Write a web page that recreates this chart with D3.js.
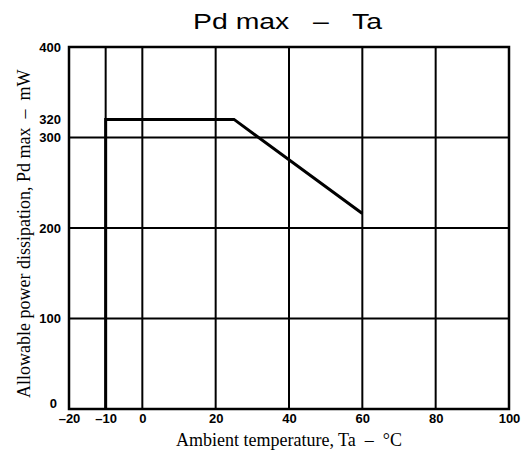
<!DOCTYPE html>
<html>
<head>
<meta charset="utf-8">
<script src="https://cdn.jsdelivr.net/npm/d3@7"></script>
<style>
  body { margin: 0; background: #fff; }
  svg { display: block; }
</style>
</head>
<body>
<div id="chart"></div>
<script>
// derating curve, Pd max (mW) vs ambient temperature (degC)
var curveTa = [-10, -10, 25, 60];
var curvePd = [0, 320, 320, 216];

var xTicks = [-20, -10, 0, 20, 40, 60, 80, 100];
var yTicks = [0, 100, 200, 300, 320, 400];
var xGrid = [-10, 0, 20, 40, 60, 80];
var yGrid = [100, 200, 300];

var W = 521, H = 452;
var margin = {top: 47, right: 12, bottom: 43, left: 69},
    width = W - margin.left - margin.right,
    height = H - margin.top - margin.bottom;

var x = d3.scaleLinear().domain([-20, 100]).range([0, width]);
var y = d3.scaleLinear().domain([0, 400]).range([height, 0]);

var svg = d3.select("#chart").append("svg")
    .attr("width", W)
    .attr("height", H);

// title (the scan is stretched sideways)
svg.append("text")
    .attr("x", 193)
    .attr("y", 29)
    .attr("textLength", 189)
    .attr("lengthAdjust", "spacingAndGlyphs")
    .style("font-family", "Liberation Sans, Arial, sans-serif")
    .style("font-size", "22px")
    .attr("xml:space", "preserve")
    .text("Pd max   \u2013   Ta");

var g = svg.append("g")
    .attr("transform", "translate(" + margin.left + "," + margin.top + ")");

// grid lines
g.selectAll(".vgrid")
    .data(xGrid)
  .enter().append("line")
    .attr("class", "vgrid")
    .attr("x1", function(d) { return x(d); })
    .attr("x2", function(d) { return x(d); })
    .attr("y1", 0)
    .attr("y2", height)
    .attr("stroke", "#000")
    .attr("stroke-width", 2);

g.selectAll(".hgrid")
    .data(yGrid)
  .enter().append("line")
    .attr("class", "hgrid")
    .attr("x1", 0)
    .attr("x2", width)
    .attr("y1", function(d) { return y(d); })
    .attr("y2", function(d) { return y(d); })
    .attr("stroke", "#000")
    .attr("stroke-width", 2);

// frame
g.append("rect")
    .attr("x", 0)
    .attr("y", 0)
    .attr("width", width)
    .attr("height", height)
    .attr("fill", "none")
    .attr("stroke", "#000")
    .attr("stroke-width", 2.5);

// axes (labels only)
var xAxis = d3.axisBottom(x)
    .tickValues(xTicks)
    .tickSize(0)
    .tickPadding(5)
    .tickFormat(function(d) { return d < 0 ? "\u2013" + Math.abs(d) : d; });

var yAxis = d3.axisLeft(y)
    .tickValues(yTicks)
    .tickSize(0)
    .tickPadding(8);

var xg = g.append("g")
    .attr("transform", "translate(0," + height + ")")
    .call(xAxis);
var yg = g.append("g").call(yAxis);

[xg, yg].forEach(function(a) {
  a.select(".domain").remove();
  a.selectAll("text")
      .attr("fill", "#000")
      .style("font-family", "Liberation Sans, Arial, sans-serif")
      .style("font-weight", "bold")
      .style("font-size", "13px");
});

// the "0" sits a little above the bottom edge in the original
yg.selectAll(".tick")
    .filter(function(d) { return d === 0; })
    .select("text")
    .attr("dy", "-0.15em")
    .attr("x", -12);

// curve
var pts = curveTa.map(function(t, i) { return [t, curvePd[i]]; });
var line = d3.line()
    .x(function(d) { return x(d[0]); })
    .y(function(d) { return y(d[1]); });

g.append("path")
    .datum(pts)
    .attr("d", line)
    .attr("fill", "none")
    .attr("stroke", "#000")
    .attr("stroke-width", 3)
    .attr("stroke-linejoin", "miter");

// axis titles
svg.append("text")
    .attr("x", 289)
    .attr("y", 446)
    .attr("text-anchor", "middle")
    .style("font-family", "Liberation Serif, Times New Roman, serif")
    .style("font-size", "18px")
    .attr("xml:space", "preserve")
    .text("Ambient temperature, Ta  \u2013  \u00b0C");

svg.append("text")
    .attr("transform", "translate(30,398) rotate(-90)")
    .attr("text-anchor", "start")
    .style("font-family", "Liberation Serif, Times New Roman, serif")
    .style("font-size", "18px")
    .attr("xml:space", "preserve")
    .text("Allowable power dissipation, Pd max  \u2013  mW");
</script>
</body>
</html>
